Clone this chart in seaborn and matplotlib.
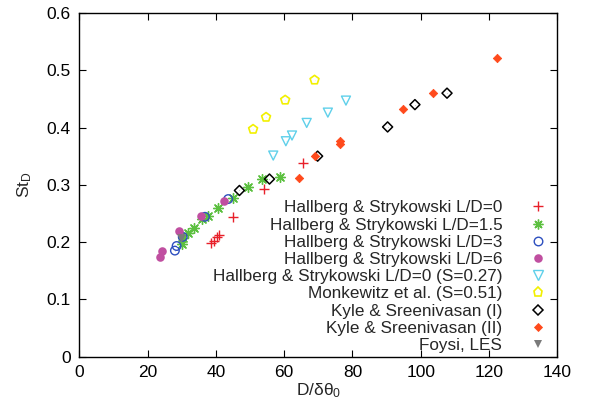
import matplotlib
matplotlib.use("Agg")
import matplotlib.pyplot as plt
import seaborn as sns
import pandas as pd
from matplotlib.lines import Line2D

# ---- data ----
hs0_x = [65.4, 54.2, 45.1, 41.0, 40.2, 39.5, 38.6]
hs0_y = [0.338, 0.292, 0.243, 0.213, 0.208, 0.202, 0.198]

hs15_x = [58.8, 53.4, 49.4, 45.1, 40.5, 37.8, 35.8, 33.6, 31.9, 30.5, 30.0]
hs15_y = [0.313, 0.310, 0.296, 0.277, 0.260, 0.246, 0.240, 0.224, 0.215, 0.207, 0.197]

hs3_x = [43.6, 36.8, 30.3, 28.5, 28.0]
hs3_y = [0.275, 0.244, 0.209, 0.193, 0.185]

hs6_x = [42.5, 35.6, 29.3, 24.1, 23.6]
hs6_y = [0.272, 0.246, 0.219, 0.184, 0.173]

hsS_x = [78.1, 72.8, 66.6, 62.3, 60.5, 56.8]
hsS_y = [0.447, 0.426, 0.408, 0.386, 0.376, 0.351]

monk_x = [68.9, 60.3, 54.7, 50.9]
monk_y = [0.483, 0.448, 0.418, 0.397]

ks1_x = [107.7, 98.3, 90.3, 69.8, 55.7, 46.9]
ks1_y = [0.460, 0.440, 0.401, 0.350, 0.310, 0.290]

ks2_x = [122.3, 103.5, 94.8, 76.5, 76.5, 68.9, 64.3]
ks2_y = [0.521, 0.461, 0.432, 0.377, 0.372, 0.351, 0.311]

foysi_x = [29.8]
foysi_y = [0.207]

labels = [
    "Hallberg & Strykowski L/D=0",
    "Hallberg & Strykowski L/D=1.5",
    "Hallberg & Strykowski L/D=3",
    "Hallberg & Strykowski L/D=6",
    "Hallberg & Strykowski L/D=0 (S=0.27)",
    "Monkewitz et al. (S=0.51)",
    "Kyle & Sreenivasan (I)",
    "Kyle & Sreenivasan (II)",
    "Foysi, LES",
]

x_ticks = [0, 20, 40, 60, 80, 100, 120, 140]
y_ticks = [0, 0.1, 0.2, 0.3, 0.4, 0.5, 0.6]

series = [
    (hs0_x, hs0_y), (hs15_x, hs15_y), (hs3_x, hs3_y), (hs6_x, hs6_y),
    (hsS_x, hsS_y), (monk_x, monk_y), (ks1_x, ks1_y), (ks2_x, ks2_y),
    (foysi_x, foysi_y),
]

# ---- styles ----
styles = [
    dict(marker="+", color="#e8202a", s=45, lw=1.0, open=False),
    dict(marker=(8, 2, 0), color="#5cc040", s=50, lw=1.0, open=False),
    dict(marker="o", color="#2d4fbf", s=38, lw=1.0, open=True),
    dict(marker="o", color="#c04fa0", s=38, lw=0, open=False),
    dict(marker="v", color="#5fd0ea", s=42, lw=1.0, open=True),
    dict(marker="p", color="#f2f000", s=45, lw=1.2, open=True),
    dict(marker="D", color="#000000", s=26, lw=1.1, open=True),
    dict(marker="D", color="#ff4a1c", s=18, lw=0.6, open=False),
    dict(marker="v", color="#7a7a7a", s=40, lw=0, open=False),
]

sns.set_theme(style="ticks")
plt.rcParams["font.family"] = ["Liberation Sans", "DejaVu Sans"]
plt.rcParams["mathtext.fontset"] = "custom"
plt.rcParams["mathtext.rm"] = "Liberation Sans"
plt.rcParams["mathtext.it"] = "Liberation Sans:italic"

fig = plt.figure(figsize=(6.10, 4.12), dpi=100)
ax = fig.add_axes([0.130, 0.1347, 0.7836, 0.8337])

handles = []
for (xs, ys), lab, st in zip(series, labels, styles):
    df = pd.DataFrame({"x": xs, "y": ys})
    if st["open"]:
        sns.scatterplot(data=df, x="x", y="y", ax=ax, marker=st["marker"],
                        s=st["s"], facecolors="none", edgecolor=st["color"],
                        linewidth=st["lw"], legend=False, zorder=3)
        sns.scatterplot(data=df, x="x", y="y", ax=ax, marker=".",
                        s=2, color=st["color"], linewidth=0, legend=False, zorder=3)
        h = Line2D([], [], marker=st["marker"], linestyle="none",
                   markerfacecolor="none", markeredgecolor=st["color"],
                   markersize=st["s"] ** 0.5, markeredgewidth=st["lw"])
    else:
        sns.scatterplot(data=df, x="x", y="y", ax=ax, marker=st["marker"],
                        s=st["s"], color=st["color"], edgecolor=st["color"],
                        linewidth=st["lw"], legend=False, zorder=3)
        h = Line2D([], [], marker=st["marker"], linestyle="none",
                   color=st["color"], markerfacecolor=st["color"],
                   markeredgecolor=st["color"],
                   markersize=st["s"] ** 0.5, markeredgewidth=st["lw"])
    handles.append(h)

ax.set_xlim(0, 140)
ax.set_ylim(0, 0.6)
ax.set_xticks(x_ticks)
ax.set_yticks(y_ticks)
ax.set_xticklabels([str(v) for v in x_ticks])
ax.set_yticklabels(["0" if v == 0 else f"{v:g}" for v in y_ticks])
ax.tick_params(direction="in", top=True, right=True, length=5, width=0.8,
               labelsize=12.5, colors="black", pad=6)
for sp in ax.spines.values():
    sp.set_visible(True)
    sp.set_linewidth(1.0)
    sp.set_color("black")

ax.set_xlabel("D/δθ$_0$", fontsize=12.5, labelpad=1)
ax.set_ylabel("St$_\\mathrm{D}$", fontsize=12.5, labelpad=9)

leg = ax.legend(handles, labels, loc="lower right", bbox_to_anchor=(0.985, 0.0),
                frameon=False, markerfirst=False, alignment="right",
                fontsize=12.3, labelspacing=0.13, handlelength=1.0,
                handletextpad=1.6, borderpad=0.2, borderaxespad=0.0)

fig.savefig("out.png", dpi=100)
